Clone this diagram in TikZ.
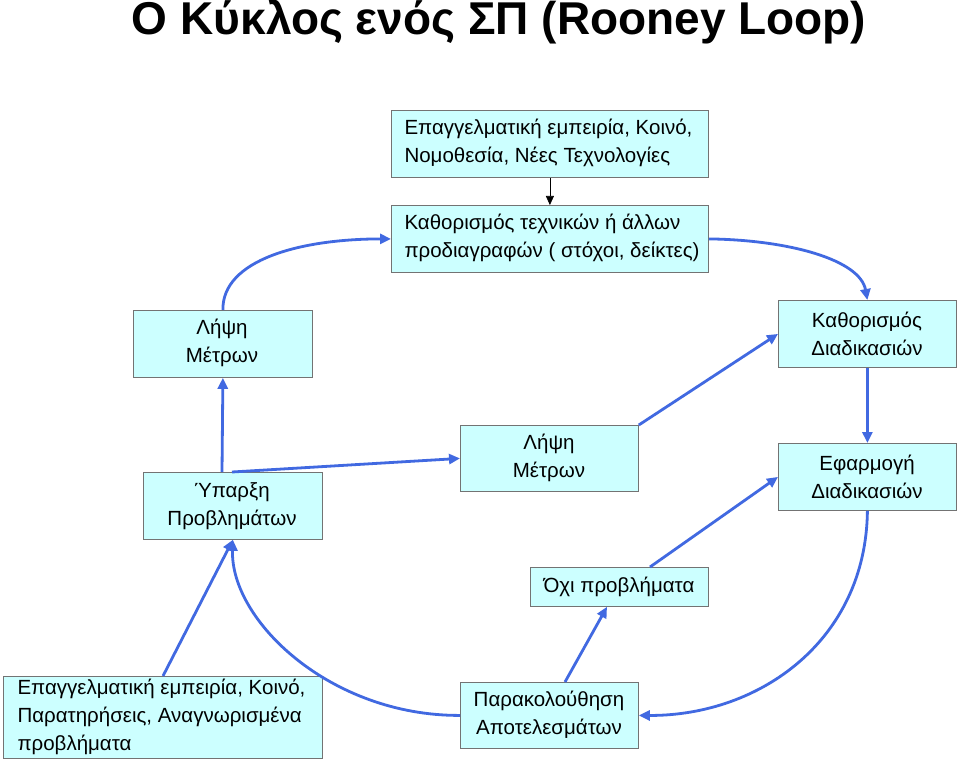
\documentclass[tikz,border=0pt]{standalone}
\usepackage{fontspec}
\setmainfont{Liberation Sans}
\usetikzlibrary{arrows.meta}
\begin{document}
\begin{tikzpicture}[x=1pt,y=-1pt,
 bx/.style={draw=black!55,fill={rgb,255:red,204;green,255;blue,255},line width=0.8pt,inner sep=0pt},
 tx/.style={font=\fontsize{20.5}{28}\selectfont},
 ar/.style={draw={rgb,255:red,65;green,105;blue,225},line width=2.8pt,-{Triangle[length=11pt,width=10pt]}}]
\useasboundingbox[fill=white] (0,0) rectangle (960,759);
\node[font=\bfseries\fontsize{46}{50}\selectfont] (title) at (499,22) {Ο Κύκλος ενός ΣΠ (Rooney Loop)};
\newcommand{\bxat}[5]{\node[bx,minimum width=#4-#2,minimum height=#5-#3,anchor=north west] (#1) at (#2,#3) {};}
\bxat{top}{391}{110}{708}{177}
\node[tx,align=left,anchor=west] (topt) at (401,143) {Επαγγελματική εμπειρία, Κοινό,\\Νομοθεσία, Νέες Τεχνολογίες};
\bxat{spec}{391}{205}{708}{272}
\node[tx,align=left,anchor=west] (spect) at (401,238) {Καθορισμός τεχνικών ή άλλων\\προδιαγραφών ( στόχοι, δείκτες)};
\bxat{lm1}{133}{310}{312}{377}
\node[tx,align=center] (lm1t) at (222,343) {Λήψη\\Μέτρων};
\bxat{kd}{778}{300}{956}{367}
\node[tx,align=center] (kdt) at (867,334) {Καθορισμός\\Διαδικασιών};
\bxat{yp}{143}{472}{322}{539}
\node[tx,align=center] (ypt) at (232,506) {Ύπαρξη\\Προβλημάτων};
\bxat{lm2}{460}{425}{638}{491}
\node[tx,align=center] (lm2t) at (549,458) {Λήψη\\Μέτρων};
\bxat{ef}{778}{443}{956}{510}
\node[tx,align=center] (eft) at (867,477) {Εφαρμογή\\Διαδικασιών};
\bxat{oxi}{530}{567}{708}{606}
\node[tx] (oxit) at (619,587) {Όχι προβλήματα};
\bxat{bl}{3}{676}{322}{758}
\node[tx,align=left,anchor=west] (blt) at (14,717) {Επαγγελματική εμπειρία, Κοινό,\\Παρατηρήσεις, Αναγνωρισμένα\\προβλήματα};
\bxat{par}{460}{682}{638}{748}
\node[tx,align=center] (part) at (549,715) {Παρακολούθηση\\Αποτελεσμάτων};
\draw[line width=0.6pt,-{Triangle[length=9pt,width=8pt]}] (top.south) -- (spec.north);
\draw[ar] (lm1.north) .. controls (222,260) and (300,239) .. (spec.west);
\draw[ar] (spec.east) .. controls (790,240) and (860,260) .. (kd.north);
\draw[ar] (kd.south) -- (ef.north);
\draw[ar] (ef.south) .. controls (866,640) and (760,716) .. (par.east);
\draw[ar] (par.north -| 565,0) -- (oxi.south -| 607,0);
\draw[ar] (oxi.north -| 650,0) -- (ef.west);
\draw[ar] (par.west) .. controls (330,716) and (230,620) .. (yp.south);
\draw[ar] (bl.north -| 163,0) -- (yp.south);
\draw[ar] (yp.north -| 232,0) -- (lm2.west);
\draw[ar] (yp.north -| 222,0) -- (lm1.south);
\draw[ar] (lm2.north east) -- (kd.west);
\end{tikzpicture}
\end{document}
